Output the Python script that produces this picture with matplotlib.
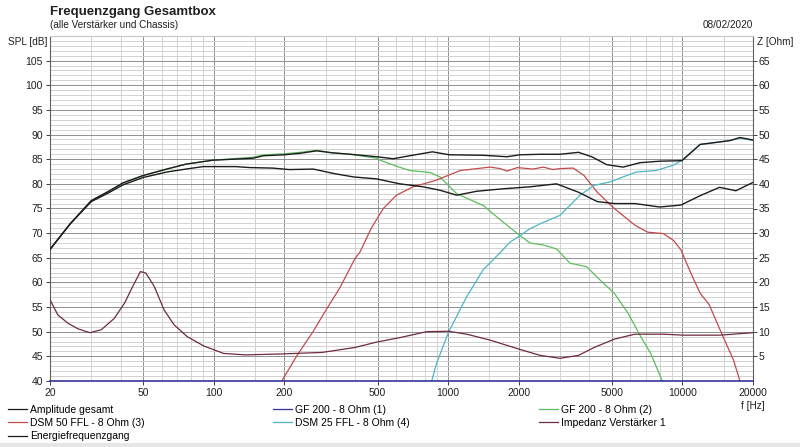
import numpy as np
import matplotlib
matplotlib.use("Agg")
import matplotlib.pyplot as plt
from matplotlib.lines import Line2D
from matplotlib.patches import Rectangle
from matplotlib.ticker import FixedLocator, NullFormatter

plt.rcParams['font.family'] = ['Liberation Sans', 'DejaVu Sans']

f_amp = [20, 24.4, 30, 35, 41, 50, 63, 76, 99, 147, 163, 200, 233, 275, 320, 383,
         496, 583, 685, 857, 1010, 1413, 1780, 2028, 2470, 3000, 3600, 4100, 4750,
         5580, 6600, 8000, 9950, 11900, 14400, 16000, 17600, 20000]
spl_amp = [66.7, 71.9, 76.6, 78.3, 80.2, 81.7, 83.0, 84.0, 84.8, 85.2, 85.7, 85.9, 86.2,
           86.7, 86.3, 86.0, 85.5, 85.1, 85.7, 86.5, 85.9, 85.8, 85.5, 85.9, 86.0, 86.0,
           86.4, 85.5, 83.9, 83.4, 84.3, 84.6, 84.7, 88.0, 88.5, 88.8, 89.4, 88.9]

f_energie = [20, 24.4, 30, 35, 41, 50, 63, 76, 90, 124, 143, 178, 210, 266, 325, 395,
             496, 623, 782, 924, 1088, 1325, 1719, 2234, 2900, 3600, 4330, 5120, 6270,
             8000, 9850, 11900, 14400, 16900, 20000]
spl_energie = [66.7, 71.9, 76.4, 78.0, 79.8, 81.3, 82.4, 83.0, 83.5, 83.5, 83.3, 83.2,
               82.9, 83.0, 82.1, 81.4, 81.0, 80.0, 79.4, 78.7, 77.7, 78.5, 79.0, 79.4,
               80.0, 78.3, 76.4, 76.0, 76.0, 75.3, 75.7, 77.6, 79.3, 78.6, 80.3]

f_gf1 = [20, 20000]
spl_gf1 = [40, 40]

f_gf2 = [20, 24.4, 30, 35, 41, 50, 63, 76, 99, 147, 163, 200, 233, 275, 320, 383, 496,
         512, 600, 687, 838, 924, 1088, 1413, 1690, 2028, 2234, 2548, 2900, 3312, 3900,
         4448, 5120, 5850, 6640, 7320, 8200]
spl_gf2 = [66.7, 71.9, 76.6, 78.3, 80.2, 81.7, 83.0, 84.0, 84.8, 85.4, 85.9, 86.1, 86.4,
           86.8, 86.3, 86.0, 85.2, 84.8, 83.6, 82.7, 82.3, 81.4, 78.0, 75.6, 72.5, 69.5,
           68.0, 67.6, 66.8, 63.9, 63.2, 60.5, 57.8, 53.8, 49.0, 45.6, 40.0]

f_dsm50 = [195, 226, 265, 303, 346, 400, 421, 470, 529, 602, 708, 885, 1125, 1510, 1665,
           1780, 1975, 2300, 2548, 2800, 3000, 3420, 3800, 4330, 5120, 6270, 7100, 8300,
           9170, 9850, 10500, 11200, 11900, 13000, 14900, 16500, 17600]
spl_dsm50 = [40.0, 45.1, 50.0, 54.6, 59.0, 64.8, 66.2, 71.0, 75.0, 77.7, 79.4, 80.7, 82.7,
             83.4, 83.1, 82.6, 83.3, 83.0, 83.4, 82.9, 83.1, 83.2, 81.7, 78.3, 75.0, 71.6,
             70.2, 69.9, 68.5, 66.6, 63.5, 60.5, 57.8, 55.5, 49.0, 44.3, 40.0]

f_dsm25 = [851, 893, 1000, 1200, 1413, 1665, 1840, 2028, 2234, 2470, 3000, 3655, 4200,
           4910, 5580, 6350, 7700, 9170, 9950, 11900, 14400, 16000, 17600, 20000]
spl_dsm25 = [40.0, 43.6, 49.7, 57.1, 62.6, 66.0, 68.2, 69.5, 70.9, 71.9, 73.6, 77.7, 79.7,
             80.4, 81.4, 82.4, 82.7, 83.8, 84.8, 88.0, 88.5, 88.8, 89.3, 88.8]

f_imp = [20, 21.6, 23.9, 26.3, 29.6, 33.1, 37.6, 41.6, 45.1, 48.6, 51.3, 55.7, 61.4,
         67.7, 77, 90.7, 110, 136, 198, 290, 400, 496, 622, 809, 1000, 1200, 1510, 2028,
         2470, 3000, 3600, 4200, 5120, 6270, 8300, 10100, 14400, 20000]
z_imp = [16.5, 13.4, 11.7, 10.6, 9.8, 10.4, 12.7, 15.8, 19.2, 22.2, 21.9, 19.2, 14.4,
         11.4, 9.0, 7.1, 5.6, 5.3, 5.5, 5.8, 6.8, 7.9, 8.8, 10.0, 10.1, 9.5, 8.3, 6.4,
         5.2, 4.6, 5.2, 6.8, 8.5, 9.5, 9.5, 9.3, 9.3, 9.8]

f_major = [20, 50, 100, 200, 500, 1000, 2000, 5000, 10000, 20000]
f_minor = [30, 40, 60, 70, 80, 90, 150, 300, 400, 600, 700, 800, 900, 1500,
           3000, 4000, 6000, 7000, 8000, 9000, 15000]

W, H = 800, 447
fig = plt.figure(figsize=(8, 4.47), dpi=100)
fig.patch.set_facecolor('white')
fig.patches.append(Rectangle((0, 0), 1, 4 / H, transform=fig.transFigure,
                             facecolor='#e6e6e6', edgecolor='none'))

ax = fig.add_axes([50 / W, 1 - 381 / H, 703 / W, (381 - 36) / H])
ax.set_xscale('log')
ax.set_xlim(20, 20000)
ax.set_ylim(40, 110)

ax.xaxis.set_major_locator(FixedLocator(f_major))
ax.xaxis.set_minor_locator(FixedLocator(f_minor))
ax.set_xticklabels([str(v) for v in f_major])
ax.xaxis.set_minor_formatter(NullFormatter())
ax.yaxis.set_major_locator(FixedLocator(np.arange(40, 106, 5)))
ax.yaxis.set_minor_locator(FixedLocator(np.arange(40, 111, 1)))

ax.grid(which='major', color='#8f8f8f', lw=0.7)
ax.grid(which='minor', color='#d2d2d2', lw=0.7)
ax.set_axisbelow(True)
ax.tick_params(which='major', length=3, width=0.7, color='#404040',
               labelsize=7.5, pad=2, labelcolor='#202020')
ax.tick_params(which='minor', length=0)

ax.spines['top'].set_color('#c8c8c8')
ax.spines['left'].set_color('#606060')
ax.spines['right'].set_color('#606060')
ax.spines['bottom'].set_visible(False)
for s in ax.spines.values():
    s.set_linewidth(0.8)

ax2 = ax.twinx()
ax2.set_ylim(0, 70)
ax2.yaxis.set_major_locator(FixedLocator(np.arange(5, 66, 5)))
ax2.tick_params(length=3, width=0.7, color='#404040', labelsize=7.5, pad=1,
                labelcolor='#202020')
for s in ax2.spines.values():
    s.set_visible(False)

# Kurven
ax.plot(f_gf2, spl_gf2, color='#5dbd5d', lw=0.9, zorder=3)
ax.plot(f_dsm50, spl_dsm50, color='#c44a4a', lw=0.9, zorder=3)
ax.plot(f_dsm25, spl_dsm25, color='#4cb6c6', lw=0.9, zorder=3)
ax.plot(f_energie, spl_energie, color='#1c1c1c', lw=1.0, zorder=4)
ax.plot(f_amp, spl_amp, color='#1c1c1c', lw=1.0, zorder=4)
ax.plot(f_gf1, spl_gf1, color='#33339c', lw=1.2, zorder=5, clip_on=False)
ax2.plot(f_imp, z_imp, color='#6e2c3c', lw=0.9, zorder=3)

# Texte
fig.text(50 / W, 1 - 12 / H, 'Frequenzgang Gesamtbox', fontsize=9.5,
         fontweight='bold', va='center', ha='left', color='#202020')
fig.text(50 / W, 1 - 25 / H, '(alle Verstärker und Chassis)', fontsize=7.2,
         va='center', ha='left', color='#202020')
fig.text(753 / W, 1 - 25 / H, '08/02/2020', fontsize=7.2, va='center', ha='right',
         color='#202020')
fig.text(47 / W, 1 - 42 / H, 'SPL [dB]', fontsize=7.2, va='center', ha='right',
         color='#202020')
fig.text(757 / W, 1 - 42 / H, 'Z [Ohm]', fontsize=7.2, va='center', ha='left',
         color='#202020')
fig.text(753 / W, 1 - 406 / H, 'f [Hz]', fontsize=7.2, va='center', ha='center',
         color='#202020')

# Legende in drei Spalten
spalten = [
    (8, [('#1c1c1c', 'Amplitude gesamt'), ('#c44a4a', 'DSM 50 FFL - 8 Ohm (3)'),
         ('#1c1c1c', 'Energiefrequenzgang')]),
    (273, [('#33339c', 'GF 200 - 8 Ohm (1)'), ('#4cb6c6', 'DSM 25 FFL - 8 Ohm (4)')]),
    (539, [('#5dbd5d', 'GF 200 - 8 Ohm (2)'), ('#6e2c3c', 'Impedanz Verstärker 1')]),
]
for x0, eintraege in spalten:
    handles = [Line2D([], [], color=c, lw=0.9) for c, _ in eintraege]
    labels = [t for _, t in eintraege]
    fig.legend(handles, labels, loc='upper left', bbox_to_anchor=(x0 / W, 1 - 405 / H),
               frameon=False, fontsize=7.5, handlelength=1.8, handletextpad=0.3,
               labelspacing=0.3, borderpad=0, borderaxespad=0)

fig.savefig('out.png', dpi=100)
